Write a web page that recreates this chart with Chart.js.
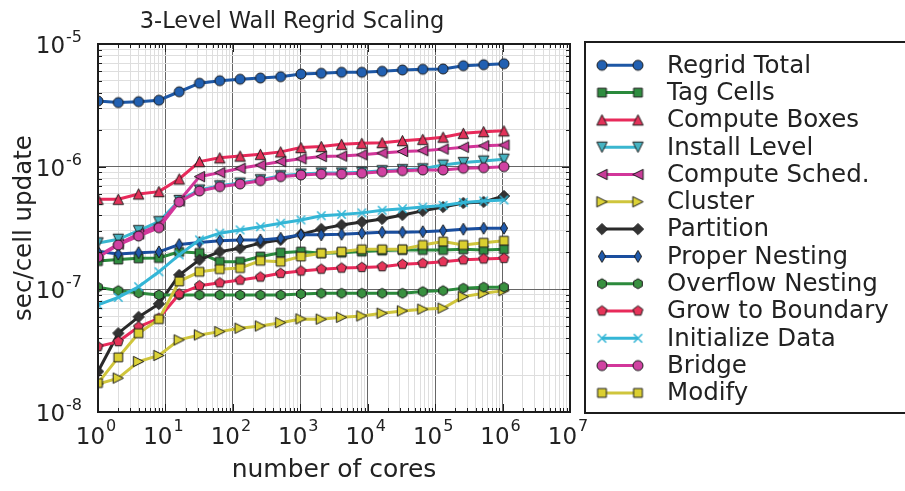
<!DOCTYPE html>
<html>
<head>
<meta charset="utf-8">
<script src="https://cdn.jsdelivr.net/npm/chart.js@4/dist/chart.umd.min.js"></script>
<style>
  html, body { margin: 0; padding: 0; background: #fff; }
</style>
</head>
<body>
<canvas id="chart" width="905" height="491"></canvas>
<script>
// core counts (x) and seconds per cell update (y) for each regrid phase
const cores = [1, 2, 4, 8, 16, 32, 64, 128, 256, 512, 1024, 2048, 4096, 8192,
  16384, 32768, 65536, 131072, 262144, 524288, 1048576];

const regridTotal = [3.43e-6, 3.33e-6, 3.39e-6, 3.48e-6, 4.08e-6, 4.79e-6, 5.02e-6, 5.16e-6, 5.28e-6, 5.41e-6, 5.69e-6,
  5.77e-6, 5.88e-6, 5.88e-6, 5.99e-6, 6.14e-6, 6.22e-6, 6.26e-6, 6.65e-6, 6.78e-6, 6.91e-6];
const tagCells = [1.70e-7, 1.75e-7, 1.79e-7, 1.80e-7, 2.02e-7, 1.98e-7, 1.68e-7, 1.68e-7, 1.85e-7, 1.99e-7, 2.03e-7,
  1.97e-7, 1.99e-7, 2.03e-7, 2.07e-7, 2.09e-7, 2.09e-7, 2.09e-7, 2.12e-7, 2.09e-7, 2.12e-7];
const computeBoxes = [5.42e-7, 5.42e-7, 5.99e-7, 6.26e-7, 7.94e-7, 1.10e-6, 1.18e-6, 1.22e-6, 1.26e-6, 1.32e-6, 1.43e-6,
  1.46e-6, 1.52e-6, 1.55e-6, 1.57e-6, 1.63e-6, 1.67e-6, 1.74e-6, 1.87e-6, 1.93e-6, 1.96e-6];
const installLevel = [2.39e-7, 2.56e-7, 3.01e-7, 3.56e-7, 5.30e-7, 6.45e-7, 6.98e-7, 7.35e-7, 7.82e-7, 8.43e-7, 8.71e-7,
  8.88e-7, 8.88e-7, 9.00e-7, 9.27e-7, 9.45e-7, 9.60e-7, 1.03e-6, 1.08e-6, 1.11e-6, 1.15e-6];
const computeSched = [1.87e-7, 2.34e-7, 2.83e-7, 3.35e-7, 5.25e-7, 8.29e-7, 8.94e-7, 9.70e-7, 1.03e-6, 1.10e-6, 1.16e-6,
  1.21e-6, 1.22e-6, 1.25e-6, 1.29e-6, 1.33e-6, 1.35e-6, 1.39e-6, 1.44e-6, 1.48e-6, 1.50e-6];
const cluster = [1.69e-8, 1.89e-8, 2.58e-8, 2.89e-8, 3.87e-8, 4.25e-8, 4.52e-8, 4.82e-8, 5.03e-8, 5.35e-8, 5.74e-8,
  5.71e-8, 5.92e-8, 6.07e-8, 6.39e-8, 6.67e-8, 6.89e-8, 7.02e-8, 8.72e-8, 9.29e-8, 9.76e-8];
const partition = [2.14e-8, 4.39e-8, 5.96e-8, 7.60e-8, 1.31e-7, 1.74e-7, 2.03e-7, 2.16e-7, 2.38e-7, 2.53e-7, 2.80e-7,
  3.11e-7, 3.35e-7, 3.54e-7, 3.75e-7, 4.04e-7, 4.36e-7, 4.69e-7, 5.06e-7, 5.16e-7, 5.77e-7];
const properNesting = [2.03e-7, 1.94e-7, 1.99e-7, 2.02e-7, 2.32e-7, 2.41e-7, 2.49e-7, 2.53e-7, 2.53e-7, 2.61e-7, 2.78e-7,
  2.78e-7, 2.81e-7, 2.87e-7, 2.92e-7, 2.92e-7, 2.95e-7, 3.01e-7, 3.09e-7, 3.15e-7, 3.15e-7];
const overflowNesting = [1.04e-7, 9.76e-8, 9.35e-8, 9.00e-8, 9.00e-8, 9.00e-8, 9.00e-8, 9.00e-8, 9.00e-8, 9.00e-8, 9.17e-8,
  9.29e-8, 9.29e-8, 9.29e-8, 9.29e-8, 9.29e-8, 9.58e-8, 9.76e-8, 1.02e-7, 1.04e-7, 1.04e-7];
const growToBoundary = [3.41e-8, 3.75e-8, 4.94e-8, 5.81e-8, 9.17e-8, 1.07e-7, 1.13e-7, 1.19e-7, 1.26e-7, 1.35e-7, 1.41e-7,
  1.46e-7, 1.49e-7, 1.51e-7, 1.53e-7, 1.60e-7, 1.63e-7, 1.68e-7, 1.74e-7, 1.77e-7, 1.79e-7];
const initializeData = [7.46e-8, 8.59e-8, 1.05e-7, 1.39e-7, 1.91e-7, 2.53e-7, 2.87e-7, 3.05e-7, 3.24e-7, 3.46e-7, 3.68e-7,
  3.98e-7, 4.08e-7, 4.20e-7, 4.41e-7, 4.54e-7, 4.69e-7, 4.83e-7, 5.11e-7, 5.25e-7, 5.35e-7];
const bridge = [1.83e-7, 2.30e-7, 2.72e-7, 3.18e-7, 5.16e-7, 6.34e-7, 6.87e-7, 7.23e-7, 7.69e-7, 8.29e-7, 8.56e-7,
  8.72e-7, 8.72e-7, 8.84e-7, 9.11e-7, 9.28e-7, 9.40e-7, 9.40e-7, 9.70e-7, 9.81e-7, 1.00e-6];
const modify = [1.72e-8, 2.79e-8, 4.39e-8, 5.71e-8, 1.16e-7, 1.39e-7, 1.46e-7, 1.49e-7, 1.71e-7, 1.68e-7, 1.85e-7,
  1.97e-7, 2.03e-7, 2.12e-7, 2.12e-7, 2.12e-7, 2.30e-7, 2.45e-7, 2.30e-7, 2.40e-7, 2.49e-7];

// decade exponents shown on the axes
const xTickExps = [0, 1, 2, 3, 4, 5, 6, 7];
const yTickExps = [-8, -7, -6, -5];

const FONT = '"DejaVu Sans"';
const EDGE = '#1c1c1c';
const TEXT = '#222';

// small offscreen canvases used as point styles, so markers match in plot and legend
function marker(shape, fill, h) {
  const s = Math.ceil(h * 2 + 4);
  const c = document.createElement('canvas');
  c.width = s; c.height = s;
  const g = c.getContext('2d');
  g.translate(s / 2, s / 2);
  const poly = pts => { g.moveTo(pts[0][0], pts[0][1]); pts.slice(1).forEach(p => g.lineTo(p[0], p[1])); g.closePath(); };
  const regular = (n, r) => {
    const pts = [];
    for (let i = 0; i < n; i++) {
      const a = -Math.PI / 2 + i * 2 * Math.PI / n;
      pts.push([r * Math.cos(a), r * Math.sin(a)]);
    }
    poly(pts);
  };
  g.beginPath();
  if (shape === 'x') {
    g.moveTo(-h, -h); g.lineTo(h, h);
    g.moveTo(h, -h); g.lineTo(-h, h);
    g.strokeStyle = fill; g.lineWidth = 1.6; g.stroke();
    return c;
  }
  if (shape === 'circle') g.arc(0, 0, h, 0, Math.PI * 2);
  if (shape === 'square') g.rect(-h, -h, 2 * h, 2 * h);
  if (shape === 'up') poly([[0, -h], [h, h], [-h, h]]);
  if (shape === 'down') poly([[0, h], [h, -h], [-h, -h]]);
  if (shape === 'left') poly([[-h, 0], [h, -h], [h, h]]);
  if (shape === 'right') poly([[h, 0], [-h, -h], [-h, h]]);
  if (shape === 'diamond') poly([[0, -h], [h, 0], [0, h], [-h, 0]]);
  if (shape === 'thin') poly([[0, -h], [0.6 * h, 0], [0, h], [-0.6 * h, 0]]);
  if (shape === 'pentagon') regular(5, h);
  if (shape === 'hexagon') regular(6, h);
  g.fillStyle = fill; g.fill();
  g.strokeStyle = EDGE; g.lineWidth = 1; g.stroke();
  return c;
}

// label, values, line colour, marker fill, marker shape, marker half-size
const series = [
  ['Regrid Total', regridTotal, '#1d57a5', '#2160b2', 'circle', 5],
  ['Tag Cells', tagCells, '#2a8a3c', '#2f8d40', 'square', 4.4],
  ['Compute Boxes', computeBoxes, '#e82a5a', '#e23259', 'up', 5.2],
  ['Install Level', installLevel, '#3ab6cf', '#46b3c2', 'down', 5.2],
  ['Compute Sched.', computeSched, '#d2369a', '#c83c98', 'left', 5.2],
  ['Cluster', cluster, '#cfc53c', '#dcd236', 'right', 5.2],
  ['Partition', partition, '#2a2a2a', '#333333', 'diamond', 5.6],
  ['Proper Nesting', properNesting, '#1a4e9e', '#1f5aad', 'thin', 6],
  ['Overflow Nesting', overflowNesting, '#2c8a3c', '#38903f', 'hexagon', 5],
  ['Grow to Boundary', growToBoundary, '#e82a5a', '#e63459', 'pentagon', 5.2],
  ['Initialize Data', initializeData, '#34b6d6', '#34b6d6', 'x', 4.2],
  ['Bridge', bridge, '#d2369a', '#d042a2', 'circle', 5],
  ['Modify', modify, '#cfc53c', '#dbcf30', 'square', 4.4],
];

const datasets = series.map(([label, vals, line, fill, shape, h], i) => ({
  label,
  data: cores.map((c, j) => ({ x: c, y: vals[j] })),
  borderColor: line,
  backgroundColor: fill,
  borderWidth: 3,
  pointStyle: marker(shape, fill, h),
  pointRadius: 5,
  pointHoverRadius: 5,
  tension: 0,
  fill: false,
  clip: 0,
  // later series sit on top
  order: series.length - i,
}));

const isDecade = v => Math.abs(Math.log10(v) - Math.round(Math.log10(v))) < 1e-6;

function decadeTicks(exps) {
  const out = [];
  for (let k = exps[0]; k < exps[exps.length - 1]; k++) {
    for (let m = 1; m <= 9; m++) out.push({ value: m * Math.pow(10, k) });
  }
  out.push({ value: Math.pow(10, exps[exps.length - 1]) });
  return out;
}

// "10" with a raised exponent
function powerLabel(ctx, exp, x, y, align, supRise) {
  ctx.font = `23px ${FONT}`;
  const wb = ctx.measureText('10').width;
  ctx.font = `16px ${FONT}`;
  const sup = String(exp);
  const ws = ctx.measureText(sup).width;
  const total = wb + 1 + ws;
  const left = align === 'right' ? x - total : x - total / 2;
  ctx.textAlign = 'left';
  ctx.textBaseline = 'alphabetic';
  ctx.font = `23px ${FONT}`;
  ctx.fillText('10', left, y);
  ctx.font = `16px ${FONT}`;
  ctx.fillText(sup, left + wb + 1, y - supRise);
}

const decorations = {
  id: 'decorations',
  afterDatasetsDraw(chart) {
    const { ctx, chartArea: a, scales: { x, y } } = chart;
    ctx.save();
    ctx.strokeStyle = EDGE;
    // inward tick marks on all four sides
    x.ticks.forEach(t => {
      const px = Math.round(x.getPixelForValue(t.value)) + 0.5;
      const len = isDecade(t.value) ? 8 : 4;
      ctx.lineWidth = 1;
      ctx.beginPath();
      ctx.moveTo(px, a.bottom); ctx.lineTo(px, a.bottom - len);
      ctx.moveTo(px, a.top); ctx.lineTo(px, a.top + len);
      ctx.stroke();
    });
    y.ticks.forEach(t => {
      const py = Math.round(y.getPixelForValue(t.value)) + 0.5;
      const len = isDecade(t.value) ? 8 : 4;
      ctx.lineWidth = 1;
      ctx.beginPath();
      ctx.moveTo(a.left, py); ctx.lineTo(a.left + len, py);
      ctx.moveTo(a.right, py); ctx.lineTo(a.right - len, py);
      ctx.stroke();
    });
    ctx.lineWidth = 2;
    ctx.strokeRect(a.left, a.top, a.right - a.left, a.bottom - a.top);
    ctx.restore();
  },
  afterDraw(chart) {
    const { ctx, chartArea: a, scales: { x, y } } = chart;
    ctx.save();
    ctx.fillStyle = TEXT;

    xTickExps.forEach(k => powerLabel(ctx, k, x.getPixelForValue(Math.pow(10, k)) - 2, a.bottom + 32, 'center', 13));
    yTickExps.forEach(k => powerLabel(ctx, k, a.left - 16, y.getPixelForValue(Math.pow(10, k)) + 9, 'right', 11));

    ctx.textAlign = 'center';
    ctx.textBaseline = 'alphabetic';
    ctx.font = `22.5px ${FONT}`;
    ctx.fillText('3-Level Wall Regrid Scaling', 292, 28);

    ctx.font = `25px ${FONT}`;
    ctx.fillText('number of cores', (a.left + a.right) / 2, 477);

    ctx.save();
    ctx.translate(31, (a.top + a.bottom) / 2);
    ctx.rotate(-Math.PI / 2);
    ctx.font = `24.5px ${FONT}`;
    ctx.fillText('sec/cell update', 0, 0);
    ctx.restore();

    // legend box to the right of the axes
    ctx.fillStyle = '#fff';
    ctx.fillRect(585, 42, 330, 371);
    ctx.strokeStyle = EDGE;
    ctx.lineWidth = 2;
    ctx.strokeRect(585, 42, 330, 371);
    chart.data.datasets.forEach((ds, i) => {
      const ry = 65.3 + i * 27.3;
      ctx.strokeStyle = ds.borderColor;
      ctx.lineWidth = 3;
      ctx.beginPath();
      ctx.moveTo(602, ry); ctx.lineTo(638, ry);
      ctx.stroke();
      const img = ds.pointStyle;
      [602, 638].forEach(mx => ctx.drawImage(img, mx - img.width / 2, ry - img.height / 2));
      ctx.fillStyle = TEXT;
      ctx.font = `24.5px ${FONT}`;
      ctx.textAlign = 'left';
      ctx.textBaseline = 'middle';
      ctx.fillText(ds.label, 667, ry + 1);
    });
    ctx.restore();
  },
};

new Chart(document.getElementById('chart'), {
  type: 'line',
  data: { datasets },
  plugins: [decorations],
  options: {
    responsive: false,
    animation: false,
    layout: { padding: { left: 98, right: 335, top: 44, bottom: 79 } },
    plugins: { legend: { display: false }, tooltip: { enabled: false } },
    scales: {
      x: {
        type: 'logarithmic',
        min: 1,
        max: 1e7,
        afterBuildTicks: s => { s.ticks = decadeTicks(xTickExps); },
        ticks: { display: false, autoSkip: false },
        grid: { color: c => isDecade(c.tick.value) ? '#666666' : '#dedede', lineWidth: 1, drawTicks: false },
        border: { display: false },
      },
      y: {
        type: 'logarithmic',
        min: 1e-8,
        max: 1e-5,
        afterBuildTicks: s => { s.ticks = decadeTicks(yTickExps); },
        ticks: { display: false, autoSkip: false },
        grid: { color: c => isDecade(c.tick.value) ? '#666666' : '#dedede', lineWidth: 1, drawTicks: false },
        border: { display: false },
      },
    },
  },
});
</script>
</body>
</html>
